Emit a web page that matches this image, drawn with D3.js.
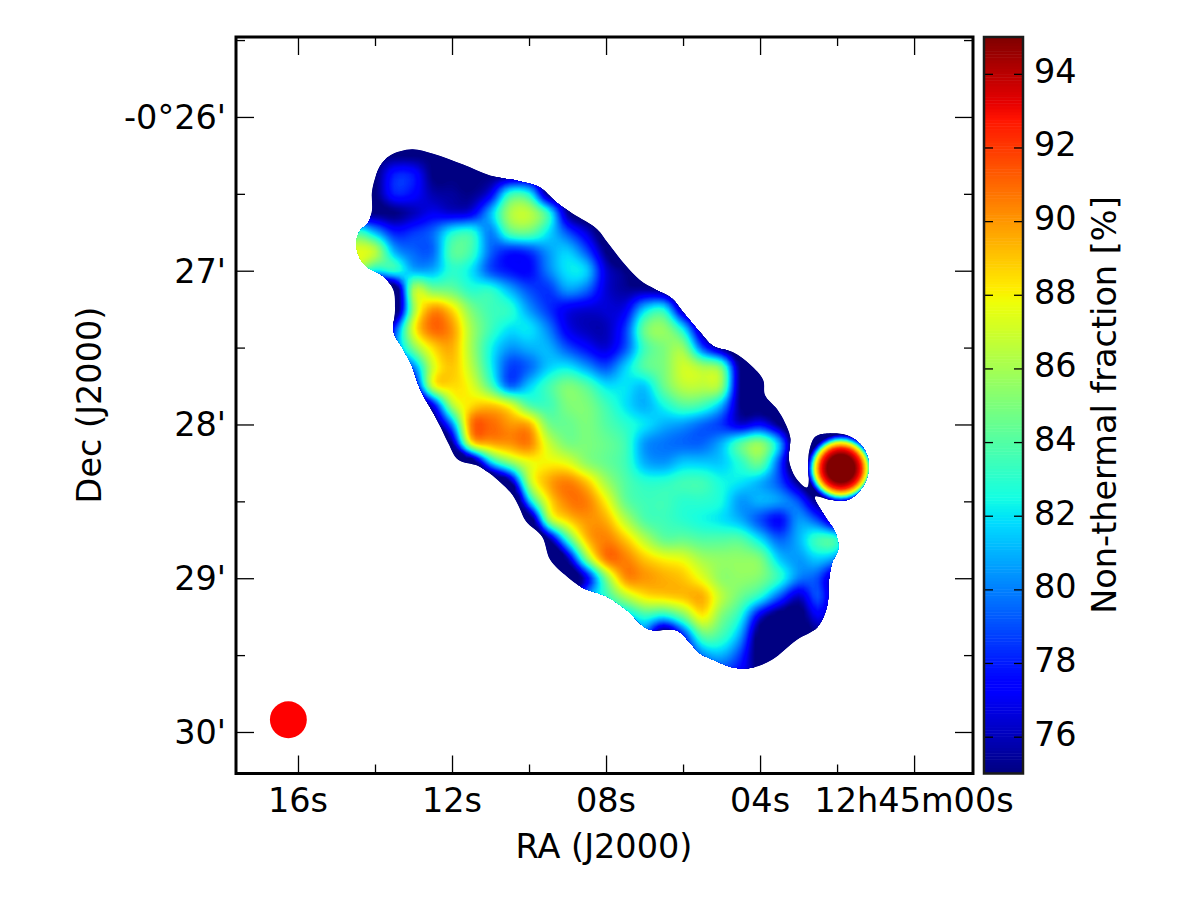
<!DOCTYPE html>
<html>
<head>
<meta charset="utf-8">
<script src="https://cdn.jsdelivr.net/npm/d3@7/dist/d3.min.js"></script>
<style>
  html, body { margin: 0; background: #fff; }
  text { font-family: "DejaVu Sans", sans-serif; fill: #000; }
</style>
</head>
<body>
<svg id="chart" width="1200" height="900"></svg>
<script>
// Sampling of the non-thermal fraction map: RA seconds past 12h45m00s, Dec arcminutes below -0 deg.
// Values under 75 fall off the bottom of the colour range and only steepen the edge gradients.
const gridRa = [15,14.5,14,13.5,13,12.5,12,11.5,11,10.5,10,9.5,9,8.5,8,7.5,7,6.5,6,5.5,5,4.5,4,3.5,3,2.5,2,1.5,1];
const gridDec = [26.125,26.25,26.375,26.5,26.625,26.75,26.875,27,27.125,27.25,27.375,27.5,27.625,27.75,27.875,28,28.125,28.25,28.375,28.5,28.625,28.75,28.875,29,29.125,29.25,29.375,29.5,29.625,29.75];
const fractionRows = [
 [75,75,75,75,75,75,75,75,75,75,75,75,75,75,75,75,75,75,75,75,75,75,75,75,75,75,75,75,75],
 [75,75,75,75,75,75,75,75,75,75,75,75,75,75,75,75,75,75,75,75,75,75,75,75,75,75,75,75,75],
 [75,75,75,78,77.8,75,75,75,75,75,75,75,75,75,75,75,75,75,75,75,75,75,75,75,75,75,75,75,75],
 [75,75,75,78,77.5,75.8,75.5,75.2,77,83,82.5,75,75,75,75,75,75,75,75,75,75,75,75,75,75,75,75,75,75],
 [75,75,75,75,76,77,76.5,77,81,86,86.5,83,75.5,74,75,75,75,75,75,75,75,75,75,75,75,75,75,75,75],
 [75,83,81,78,78.5,79.5,82.5,83,80,84,84.5,82,79,76.5,74,75,75,75,75,75,75,75,75,75,75,75,75,75,75],
 [87,87.5,86.5,81,79.5,79.5,84,83.5,79.5,78,78.5,80.5,81.5,79,75,73,75,75,75,75,75,75,75,75,75,75,75,75,75],
 [82,85,82,83,81,81,83,82,79,77.8,77.5,80,82,81.5,76.5,75,73,75,75,75,75,75,75,75,75,75,75,75,75],
 [70,70,70,72,86,85,84.5,83,83,81,79,78.5,80.5,79.5,76.5,75.5,75.5,75,73,75,75,75,75,75,75,75,75,75,75],
 [70,70,70,72,85.5,90,88.5,85,83.5,83,80.5,78.5,77,76.5,76.5,77,81.5,82.5,75.5,73,75,75,75,75,75,75,75,75,75],
 [70,70,70,78,87.5,91,90,86,83.5,82,82,80,77,76,76,78.5,84.5,85.5,82,75,73,75,75,75,75,75,75,75,75],
 [70,70,70,79,85,88.5,89.5,86,82.5,80.5,81,81,79,77.5,76.5,79,83.5,85,85.5,79,75,73,75,75,75,75,75,75,75],
 [75,75,75,76,80,87,89,86.5,82.5,78.8,79.5,81.5,82,80.5,79,81.5,84,85,87,86,84.5,74.5,73,75,75,75,75,75,75],
 [75,75,75,72,76,87,88.5,87.5,84,79.5,81.5,83.5,85,84,82,82,81.5,84.5,86.5,86.5,85.5,74.5,73,75,75,75,75,75,75],
 [75,75,75,75,72,77,86,88.5,89,87.5,84,83.5,85,85,83.5,82,81,82.5,84,83.5,81,75,74,74,72,75,75,75,75],
 [75,75,75,75,75,74,80,90.5,91,90,89.5,85,84.5,85,84,83,82,81,80.5,79.5,78.5,76.5,77.5,75,72,75,75,75,75],
 [75,75,75,75,75,70,75,87.5,89.5,90,90.5,87,85,85,84.5,83.5,80.5,79.8,79.5,79.5,81,84,85.5,81,72,75,75,75,75],
 [75,75,75,75,75,75,70,72,81,85,87.5,88,87.5,85.5,84.5,83.5,81,80.5,81.5,81.5,81.5,83,84.5,79,72,75,75,75,75],
 [75,75,75,75,75,75,75,70,70,74.5,86,89.5,90.5,89,86,84,83,83,83.5,83.5,82.5,82,81,79,75,72,75,75,75],
 [75,75,75,75,75,75,75,75,68,68,81,88,90.5,90.5,88,84.5,83.5,83.5,83,83,82.5,80.5,81,80.5,79,75,75,75,75],
 [75,75,75,75,75,75,75,75,75,70,72,85,88.5,90,89.5,86.5,84,83.5,83,82.5,82,81,79,77.5,80.5,79,75,75,75],
 [75,75,75,75,75,75,75,75,75,75,70,74.5,83,89,90.5,89,86.5,84.5,84.5,84,84,84,82,79.5,81,83.5,83,75,75],
 [75,75,75,75,75,75,75,75,75,75,75,70,75.5,85,90.5,90.5,89,88,87.5,86,85.5,85.5,85,81.5,80.5,81.5,80,75,75],
 [75,75,75,75,75,75,75,75,75,75,75,75,72,77,85,90,90,89.5,89,87.5,85.5,85.5,85,83,80,79,75,75,75],
 [75,75,75,75,75,75,75,75,75,75,75,75,75,80,83,86,88,88.5,89,89.5,86.5,84.5,82.5,79,76,79,75,75,75],
 [75,75,75,75,75,75,75,75,75,75,75,75,75,75,80,81,83,82,84.5,88,85,82.5,76.5,74,74,77,75,75,75],
 [75,75,75,75,75,75,75,75,75,75,75,75,75,75,75,78,79,73,78,84,83.5,80.5,74,74,74,75,75,75,75],
 [75,75,75,75,75,75,75,75,75,75,75,75,75,75,75,75,75,75,76,80,81,78.5,74,75,75,75,75,75,75],
 [75,75,75,75,75,75,75,75,75,75,75,75,75,75,75,75,75,75,75,77,78,77,75,75,75,75,75,75,75],
 [75,75,75,75,75,75,75,75,75,75,75,75,75,75,75,75,75,75,75,75,75,75,75,75,75,75,75,75,75]
];

// Edge of the measured emission: main body plus the compact source, traced from the northern tip.
const outlineRa = [13.04,13.61,13.87,14.00,14.08,14.08,14.18,14.39,14.49,14.39,14.18,13.82,13.53,13.48,13.51,13.27,13.04,12.83,12.39,12.10,11.84,11.32,11.01,10.49,10.29,10.08,9.66,9.45,9.01,8.62,7.97,7.45,6.91,6.16,5.82,5.56,5.22,4.70,4.18,3.69,3.04,2.52,2.26,2.21,2.13,1.97,2.05,2.31,2.57,2.18,1.71,1.32,1.17,1.32,1.74,2.31,2.57,2.73,2.78,3.09,3.25,3.22,3.35,3.56,3.87,3.92,4.26,4.70,5.22,5.56,6.00,6.29,6.73,7.12,7.51,7.95,8.23,8.86,9.27,9.71,10.23,11.01,11.71,12.49];
const outlineDec = [26.21,26.25,26.32,26.40,26.49,26.61,26.69,26.74,26.82,26.92,26.98,27.03,27.12,27.25,27.40,27.51,27.62,27.77,27.97,28.12,28.23,28.27,28.32,28.44,28.52,28.63,28.73,28.88,28.99,29.06,29.12,29.21,29.33,29.34,29.42,29.49,29.53,29.58,29.58,29.53,29.40,29.32,29.18,29.01,28.90,28.81,28.70,28.60,28.47,28.49,28.49,28.40,28.27,28.15,28.07,28.06,28.08,28.18,28.41,28.34,28.23,28.08,27.99,27.90,27.81,27.71,27.61,27.53,27.49,27.40,27.27,27.18,27.12,27.06,26.96,26.82,26.73,26.63,26.56,26.46,26.42,26.38,26.31,26.24];

// Radial profile of the compact source east of the galaxy.
const sourceRa = 1.90;
const sourceDec = 28.286;
const sourceRadius = [0, 5.5, 8, 9, 10, 10.7, 11.3, 11.9, 12.5, 13.2];
const sourceLevel = [97, 95, 92.5, 90, 88, 85, 82, 80, 78, 75.5];

// Beam marker position and radius (arcsec).
const beamRa = 16.25;
const beamDec = 29.92;
const beamRadius = 7.2;

// Axis ticks.
const raMajor = [16, 12, 8, 4, 0];
const raMinor = [14, 10, 6, 2];
const raLabels = ["16s", "12s", "08s", "04s", "12h45m00s"];
const decMajor = [26, 27, 28, 29, 30];
const decMinor = [25.5, 26.5, 27.5, 28.5, 29.5];
const decLabels = ["-0\u00b026'", "27'", "28'", "29'", "30'"];
const barTicks = [76, 78, 80, 82, 84, 86, 88, 90, 92, 94];

// Jet colour stops.
const jetRedAt = [0, .35, .66, .89, 1],   jetRed = [0, 0, 1, 1, .5];
const jetGreenAt = [0, .125, .375, .64, .91, 1], jetGreen = [0, 0, 1, 1, 0, 0];
const jetBlueAt = [0, .11, .34, .65, 1],  jetBlue = [.5, 1, 1, 0, 0];

const plotLeft = 236, plotRight = 973, plotTop = 37, plotBottom = 773.5;
const x = d3.scaleLinear().domain([17.61, -1.53]).range([plotLeft, plotRight]);
const y = d3.scaleLinear().domain([25.48, 30.27]).range([plotTop, plotBottom]);
const barY = d3.scaleLinear().domain([75, 95]).range([773.5, 37]);
const barLeft = 984, barRight = 1023;

const redAt = d3.scaleLinear().domain(jetRedAt).range(jetRed).clamp(true);
const greenAt = d3.scaleLinear().domain(jetGreenAt).range(jetGreen).clamp(true);
const blueAt = d3.scaleLinear().domain(jetBlueAt).range(jetBlue).clamp(true);
const unit = d3.scaleLinear().domain([75, 95]).range([0, 1]).clamp(true);
const jet = v => {
  const t = unit(v);
  return d3.rgb(255 * redAt(t), 255 * greenAt(t), 255 * blueAt(t)).formatRgb();
};

const svg = d3.select("#chart");

// Catmull-Rom resampling so the contours stay smooth between samples.
const factor = 4;
const nCols = gridRa.length, nRows = gridDec.length;
const catmull = (a, b, c, d, t) =>
  0.5 * (2 * b + (c - a) * t + (2 * a - 5 * b + 4 * c - d) * t * t + (3 * b - a - 3 * c + d) * t * t * t);
const sample = (r, c) => fractionRows[Math.max(0, Math.min(nRows - 1, r))][Math.max(0, Math.min(nCols - 1, c))];
const fineW = (nCols - 1) * factor + 1, fineH = (nRows - 1) * factor + 1;
const fine = new Float64Array(fineW * fineH);
for (let j = 0; j < fineH; j++) {
  const r = Math.floor(j / factor), v = j / factor - r;
  for (let i = 0; i < fineW; i++) {
    const c = Math.floor(i / factor), u = i / factor - c;
    const line = k => catmull(sample(r + k, c - 1), sample(r + k, c), sample(r + k, c + 1), sample(r + k, c + 2), u);
    fine[j * fineW + i] = Math.max(75, catmull(line(-1), line(0), line(1), line(2), v));
  }
}

const raOf = col => gridRa[0] + (gridRa[1] - gridRa[0]) * (col - 0.5) / factor;
const decOf = row => gridDec[0] + (gridDec[1] - gridDec[0]) * (row - 0.5) / factor;
const contourPath = d3.geoPath(d3.geoTransform({
  point(px, py) { this.stream.point(x(raOf(px)), y(decOf(py))); }
}));

const outlinePoints = outlineRa.map((ra, i) => [ra, outlineDec[i]]);
const outlineLine = d3.line().x(d => x(d[0])).y(d => y(d[1])).curve(d3.curveCatmullRomClosed.alpha(0.5));
svg.append("clipPath").attr("id", "emission").append("path").attr("d", outlineLine(outlinePoints));

const mapLayer = svg.append("g").attr("clip-path", "url(#emission)");
mapLayer.append("path").attr("d", outlineLine(outlinePoints)).attr("fill", jet(75));

const thresholds = d3.range(75, 96, 0.1);
const bands = d3.contours().size([fineW, fineH]).thresholds(thresholds)(fine);
mapLayer.selectAll("path.band").data(bands).join("path")
  .attr("class", "band")
  .attr("d", contourPath)
  .attr("fill", d => jet(d.value + 0.05));

// Compact source: nested discs from the radial profile.
const radiusOf = d3.scaleLinear().domain(sourceLevel).range(sourceRadius);
const arcsec = Math.abs(y(26 + 1 / 60) - y(26));
mapLayer.selectAll("circle.source").data(d3.range(75.5, 95.01, 0.25)).join("circle")
  .attr("class", "source")
  .attr("cx", x(sourceRa)).attr("cy", y(sourceDec))
  .attr("r", d => radiusOf(d) * arcsec)
  .attr("fill", d => jet(d));

// Beam.
svg.append("circle").attr("cx", x(beamRa)).attr("cy", y(beamDec))
  .attr("r", beamRadius * arcsec).attr("fill", "#ff0000");

// Inward ticks on all four sides.
const tickStyle = g => g.selectAll("line").attr("stroke", "#000").attr("stroke-width", 1.3);
const cleanup = g => { g.select(".domain").remove(); g.selectAll("text").remove(); tickStyle(g); };
const majorLen = 18, minorLen = 9;
[[d3.axisBottom, plotBottom], [d3.axisTop, plotTop]].forEach(([axis, pos]) => {
  svg.append("g").attr("transform", `translate(0,${pos})`)
    .call(axis(x).tickValues(raMajor).tickSizeInner(-majorLen).tickSizeOuter(0)).call(cleanup);
  svg.append("g").attr("transform", `translate(0,${pos})`)
    .call(axis(x).tickValues(raMinor).tickSizeInner(-minorLen).tickSizeOuter(0)).call(cleanup);
});
[[d3.axisLeft, plotLeft], [d3.axisRight, plotRight]].forEach(([axis, pos]) => {
  svg.append("g").attr("transform", `translate(${pos},0)`)
    .call(axis(y).tickValues(decMajor).tickSizeInner(-majorLen).tickSizeOuter(0)).call(cleanup);
  svg.append("g").attr("transform", `translate(${pos},0)`)
    .call(axis(y).tickValues(decMinor).tickSizeInner(-minorLen).tickSizeOuter(0)).call(cleanup);
});

// Frame.
svg.append("rect").attr("x", plotLeft).attr("y", plotTop).attr("width", plotRight - plotLeft).attr("height", plotBottom - plotTop)
  .attr("fill", "none").attr("stroke", "#000").attr("stroke-width", 3);

const fontSize = 33.5;
svg.selectAll("text.ra").data(raMajor).join("text").attr("class", "ra")
  .attr("x", d => x(d)).attr("y", 812).attr("text-anchor", "middle").attr("font-size", fontSize)
  .text((d, i) => raLabels[i]);
svg.selectAll("text.dec").data(decMajor).join("text").attr("class", "dec")
  .attr("x", 226).attr("y", d => y(d) + 12).attr("text-anchor", "end").attr("font-size", fontSize)
  .text((d, i) => decLabels[i]);
svg.append("text").attr("x", 604).attr("y", 858).attr("text-anchor", "middle").attr("font-size", fontSize).text("RA (J2000)");
svg.append("text").attr("transform", "translate(101,405) rotate(-90)").attr("text-anchor", "middle").attr("font-size", fontSize).text("Dec (J2000)");

// Colour bar.
const barLevels = d3.range(75, 95, 20 / 256);
svg.selectAll("rect.bar").data(barLevels).join("rect").attr("class", "bar")
  .attr("x", barLeft).attr("width", barRight - barLeft)
  .attr("y", d => barY(d + 20 / 256)).attr("height", d => barY(d) - barY(d + 20 / 256) + 0.5)
  .attr("fill", d => jet(d + 10 / 256));
const barAxisStyle = g => { g.select(".domain").remove(); g.selectAll("text").remove(); tickStyle(g); };
svg.append("g").attr("transform", `translate(${barRight},0)`)
  .call(d3.axisRight(barY).tickValues(barTicks).tickSizeInner(-9).tickSizeOuter(0)).call(barAxisStyle);
svg.append("g").attr("transform", `translate(${barLeft},0)`)
  .call(d3.axisLeft(barY).tickValues(barTicks).tickSizeInner(-9).tickSizeOuter(0)).call(barAxisStyle);
svg.append("rect").attr("x", barLeft).attr("y", plotTop).attr("width", barRight - barLeft).attr("height", plotBottom - plotTop)
  .attr("fill", "none").attr("stroke", "#1a1a1a").attr("stroke-width", 2.5);
svg.selectAll("text.barLabel").data(barTicks).join("text").attr("class", "barLabel")
  .attr("x", 1034).attr("y", d => barY(d) + 9).attr("font-size", fontSize).text(d => d);
svg.append("text").attr("transform", "translate(1116,405) rotate(-90)").attr("text-anchor", "middle")
  .attr("font-size", fontSize).text("Non-thermal fraction [%]");
</script>
</body>
</html>
